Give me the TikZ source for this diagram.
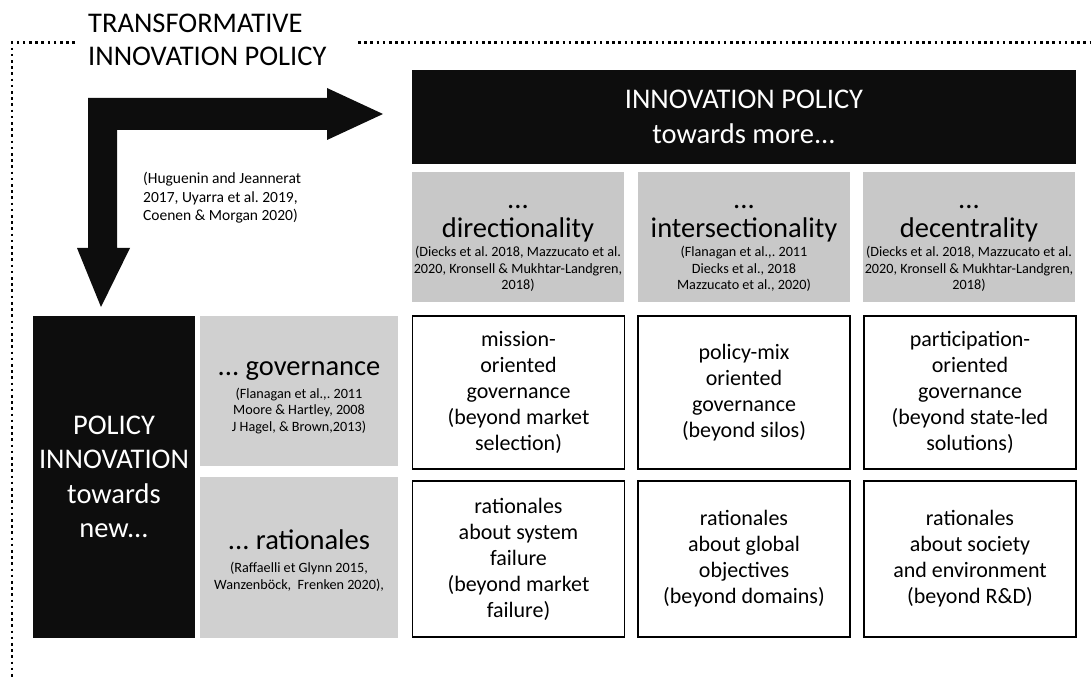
\documentclass[tikz,border=0pt]{standalone}
\usepackage{fontspec}
\setmainfont{Carlito}
\usepackage{xcolor}
\usepackage{tikz}
\usetikzlibrary{positioning}
\frenchspacing

\definecolor{boxgray}{RGB}{200,200,200}
\definecolor{sidegray}{RGB}{208,208,208}
\definecolor{nearblack}{RGB}{13,13,13}

\begin{document}
\begin{tikzpicture}[x=1pt,y=-1pt,
    big/.style={font=\fontsize{28.5}{34}\selectfont},
    cite/.style={font=\fontsize{14.2}{16.5}\selectfont,align=center},
    shade/.style={fill=boxgray,draw=none,inner sep=0pt,minimum width=212pt},
    dark/.style={fill=nearblack,text=white,inner sep=0pt,align=center,font=\fontsize{28.5}{34.5}\selectfont},
    cell/.style={draw=black,line width=1.8pt,fill=white,inner sep=0pt,minimum width=212pt,align=center,font=\fontsize{22}{26}\selectfont}]
    \useasboundingbox (0,0) rectangle (1091,684);

    % dotted frame, open at the title
    \draw[line width=2.8pt,dash pattern=on 2.6pt off 3.6pt] (75,42.5) -- (12,42.5) -- (12,680);
    \draw[line width=2.8pt,dash pattern=on 2.6pt off 3.6pt] (358,42.5) -- (1091,42.5);
    \node[big,anchor=base west,inner sep=0pt] (title1) at (88,32.5) {TRANSFORMATIVE};
    \node[big,anchor=base west,inner sep=0pt] (title2) at (88,65.5) {INNOVATION POLICY};

    % bent arrow
    \fill[nearblack] (88,98) -- (327,98) -- (327,88) -- (383,114) -- (327,140) -- (327,130)
      -- (117,130) -- (117,248) -- (130,248) -- (101,307) -- (77,248) -- (88,248) -- cycle;
    \node[font=\fontsize{15.5}{18.5}\selectfont,align=left,anchor=north west,inner sep=0pt] (refs) at (143,172)
      {(Huguenin and Jeannerat\\2017, Uyarra et al. 2019,\\Coenen \& Morgan 2020)};

    % top row
    \node[dark,minimum width=664pt,minimum height=94pt] (ip) at (744,117) {INNOVATION POLICY\\towards more...};

    \node[shade,minimum height=130pt] (dir) at (518,237) {};
    \node[big,anchor=base] (dirdots) at (518,209) {...};
    \node[big,anchor=base] (dirword) at (518,237.5) {directionality};
    \node[cite,anchor=base] (dirref) at (518,290) {(Diecks et al. 2018, Mazzucato et al.\\2020, Kronsell \& Mukhtar-Landgren,\\2018)};

    \node[shade,minimum height=130pt] (inter) at (744,237) {};
    \node[big,anchor=base] (interdots) at (744,209) {...};
    \node[big,anchor=base] (interword) at (744,237.5) {intersectionality};
    \node[cite,anchor=base] (interref) at (744,290) {(Flanagan et al.,. 2011\\Diecks et al., 2018\\Mazzucato et al., 2020)};

    \node[shade,minimum height=130pt] (dec) at (969,237) {};
    \node[big,anchor=base] (decdots) at (969,209) {...};
    \node[big,anchor=base] (decword) at (969,237.5) {decentrality};
    \node[cite,anchor=base] (decref) at (969,290) {(Diecks et al. 2018, Mazzucato et al.\\2020, Kronsell \& Mukhtar-Landgren,\\2018)};

    % left column
    \node[dark,minimum width=162pt,minimum height=322pt] (pi) at (114,477) {POLICY\\INNOVATION\\towards\\new...};

    \node[shade,fill=sidegray,minimum width=198pt,minimum height=150pt] (gov) at (299,391) {};
    \node[big,anchor=base] (govword) at (299,375) {... governance};
    \node[cite,anchor=base] (govref) at (299,431) {(Flanagan et al.,. 2011\\Moore \& Hartley, 2008\\J Hagel, \& Brown,2013)};

    \node[shade,fill=sidegray,minimum width=198pt,minimum height=161pt] (rat) at (299,557.5) {};
    \node[big,anchor=base] (ratword) at (299,549) {... rationales};
    \node[cite,anchor=base] (ratref) at (299,589) {(Raffaelli et Glynn 2015,\\Wanzenböck,~ Frenken 2020),};

    % grid of cells
    \node[cell,minimum height=153pt] (c11) at (518.5,392.5) {mission-\\oriented\\governance\\(beyond market\\selection)};
    \node[cell,minimum height=153pt] (c12) at (744,392.5) {policy-mix\\oriented\\governance\\(beyond silos)};
    \node[cell,minimum height=153pt] (c13) at (970,392.5) {participation-\\oriented\\governance\\(beyond state-led\\solutions)};
    \node[cell,minimum height=156pt] (c21) at (518.5,559) {rationales\\about system\\failure\\(beyond market\\failure)};
    \node[cell,minimum height=156pt] (c22) at (744,559) {rationales\\about global\\objectives\\(beyond domains)};
    \node[cell,minimum height=156pt] (c23) at (970,559) {rationales\\about society\\and environment\\(beyond R\&D)};
\end{tikzpicture}
\end{document}
